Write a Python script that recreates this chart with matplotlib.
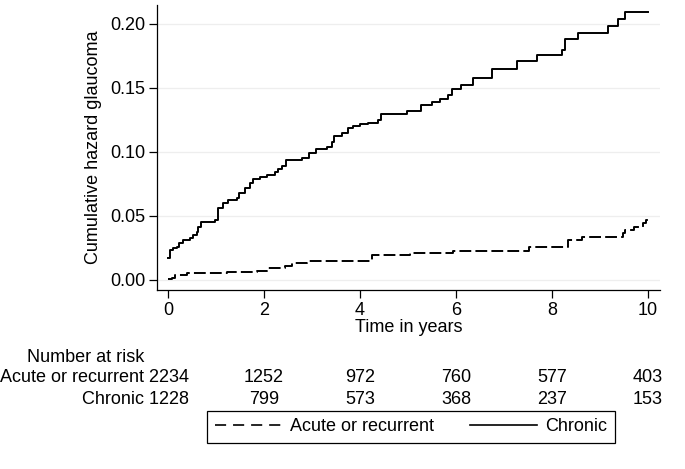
import matplotlib
matplotlib.use('Agg')
import matplotlib.pyplot as plt
from matplotlib.lines import Line2D
import matplotlib.transforms as mtransforms

plt.rcParams['font.family'] = ['Liberation Sans', 'DejaVu Sans']
plt.rcParams['font.size'] = 13
plt.rcParams['lines.scale_dashes'] = False

# step points (time in years, cumulative hazard after the step)
chronic_t = [0.00, 0.04, 0.10, 0.18, 0.22, 0.32, 0.46, 0.53, 0.60, 0.63, 0.68,
             0.98, 1.05, 1.15, 1.26, 1.43, 1.48, 1.60, 1.71, 1.78, 1.92, 2.06,
             2.23, 2.30, 2.38, 2.45, 2.80, 2.94, 3.08, 3.31, 3.41, 3.46, 3.62,
             3.76, 3.86, 4.00, 4.17, 4.38, 4.43, 4.97, 5.28, 5.51, 5.67, 5.84,
             5.91, 6.10, 6.36, 6.74, 7.28, 7.69, 8.20, 8.27, 8.55, 9.16, 9.37,
             9.52, 10.00]
chronic_h = [0.017, 0.0234, 0.0248, 0.026, 0.029, 0.031, 0.0326, 0.035, 0.0378,
             0.0415, 0.0456, 0.047, 0.056, 0.060, 0.0625, 0.0638, 0.068, 0.0716,
             0.0755, 0.0786, 0.0807, 0.082, 0.0846, 0.087, 0.089, 0.094, 0.095,
             0.0995, 0.102, 0.104, 0.108, 0.1125, 0.1146, 0.1185, 0.120, 0.122,
             0.123, 0.125, 0.1297, 0.132, 0.1367, 0.1388, 0.1414, 0.1445, 0.149,
             0.152, 0.158, 0.1646, 0.1713, 0.1758, 0.1797, 0.1883, 0.1932,
             0.1987, 0.2039, 0.2096, 0.2096]

acute_t = [0.00, 0.08, 0.15, 0.39, 0.80, 1.22, 1.85, 2.07, 2.44, 2.58, 2.89,
           4.24, 5.04, 5.94, 7.53, 8.33, 8.62, 9.47, 9.52, 9.70, 9.90, 9.95,
           10.00]
acute_h = [0.0005, 0.0015, 0.0039, 0.0052, 0.0057, 0.0063, 0.0073, 0.0091,
           0.011, 0.0135, 0.015, 0.0195, 0.0212, 0.0229, 0.026, 0.0312, 0.0333,
           0.037, 0.039, 0.0417, 0.0445, 0.047, 0.047]

risk_times = [0, 2, 4, 6, 8, 10]
acute_risk = [2234, 1252, 972, 760, 577, 403]
chronic_risk = [1228, 799, 573, 368, 237, 153]

fig = plt.figure(figsize=(6.85, 4.69), dpi=100)
ax = fig.add_axes([0.2292, 0.3817, 0.7343, 0.6077])

ax.step(acute_t, acute_h, where='post', color='black', lw=1.4,
        linestyle=(0, (8.5, 3)))
ax.step(chronic_t, chronic_h, where='post', color='black', lw=1.4)

ax.set_xlim(-0.229, 10.25)
ax.set_ylim(-0.0078, 0.2148)
ax.set_xticks(risk_times)
ax.set_yticks([0, 0.05, 0.10, 0.15, 0.20])
ax.set_yticklabels(['0.00', '0.05', '0.10', '0.15', '0.20'])
ax.grid(axis='y', color='#eeeeee', lw=0.9)
ax.set_axisbelow(True)
for s in ['top', 'right']:
    ax.spines[s].set_visible(False)
for s in ['left', 'bottom']:
    ax.spines[s].set_linewidth(0.9)
ax.tick_params(length=5.5, width=0.9, pad=3)
ax.set_xlabel('Time in years', labelpad=0)
ax.set_ylabel('Cumulative hazard glaucoma', labelpad=6)

# number at risk table
tr = ax.get_xaxis_transform()
ax.text(-2.94, -0.236, 'Number at risk', transform=tr, ha='left', va='center')
lab_tr = mtransforms.offset_copy(tr, fig=fig, x=21, y=0, units='dots')
ax.text(0, -0.307, 'Acute or recurrent %d' % acute_risk[0], transform=lab_tr,
        ha='right', va='center')
ax.text(0, -0.384, 'Chronic %d' % chronic_risk[0], transform=lab_tr,
        ha='right', va='center')
for t, a, c in zip(risk_times[1:], acute_risk[1:], chronic_risk[1:]):
    ax.text(t, -0.307, str(a), transform=tr, ha='center', va='center')
    ax.text(t, -0.384, str(c), transform=tr, ha='center', va='center')

handles = [Line2D([], [], color='black', lw=1.2, linestyle=(0, (8, 5))),
           Line2D([], [], color='black', lw=1.2)]
leg = fig.legend(handles, ['Acute or recurrent', 'Chronic'], ncol=2,
                 loc='center', bbox_to_anchor=(0.6, 0.0896),
                 handlelength=3.7, handletextpad=0.45, columnspacing=2.0,
                 borderpad=0.42, fancybox=False, framealpha=1)
leg.get_frame().set_edgecolor('black')
leg.get_frame().set_linewidth(0.9)

fig.savefig('out.png', dpi=100)
